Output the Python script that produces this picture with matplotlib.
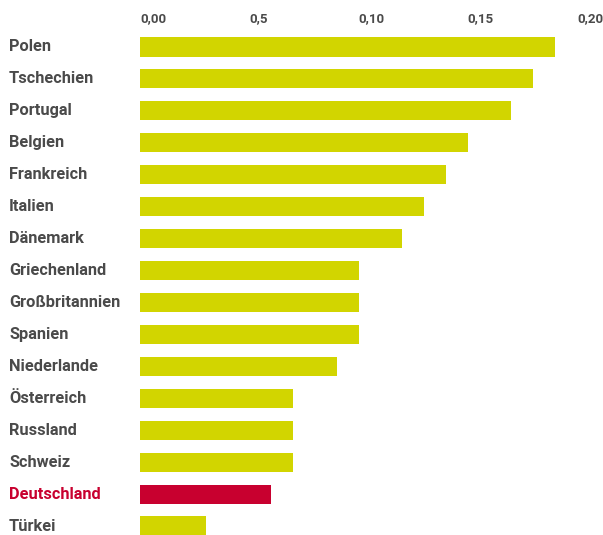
import matplotlib
matplotlib.use("Agg")
import matplotlib.pyplot as plt
import matplotlib.transforms as mtransforms

countries = ["Polen", "Tschechien", "Portugal", "Belgien", "Frankreich", "Italien",
             "Dänemark", "Griechenland", "Großbritannien", "Spanien", "Niederlande",
             "Österreich", "Russland", "Schweiz", "Deutschland", "Türkei"]
values = [0.19, 0.18, 0.17, 0.15, 0.14, 0.13, 0.12, 0.10, 0.10, 0.10, 0.09,
          0.07, 0.07, 0.07, 0.06, 0.03]
tick_values = [0.0, 0.05, 0.10, 0.15, 0.20]
tick_labels = ["0,00", "0,5", "0,10", "0,15", "0,20"]
highlight = "Deutschland"

GREEN = "#D2D500"
RED = "#C8002F"
GREY = "#4A4A4A"
FONT = ["Roboto", "DejaVu Sans"]

fig = plt.figure(figsize=(6.03, 5.35), dpi=100)
ax = fig.add_axes([140 / 603, 0, 437 / 603, 504 / 535])

colors = [RED if c == highlight else GREEN for c in countries]
ax.barh(range(len(countries)), values, height=0.6, color=colors)

ax.set_xlim(0, 0.2)
ax.set_ylim(15.28, -0.5)

ax.xaxis.tick_top()
ax.set_xticks(tick_values)
ax.set_xticklabels(tick_labels, ha="left", fontsize=9.5, fontweight="bold",
                   color=GREY, family=FONT)
ax.tick_params(axis="x", length=0, pad=4)
ax.set_yticks([])

# country names left-aligned at the figure's left edge
trans = mtransforms.blended_transform_factory(fig.transFigure, ax.transData)
for i, c in enumerate(countries):
    ax.text(9 / 603, i, c, transform=trans, ha="left", va="center",
            fontsize=11.8, fontweight="bold", family=FONT,
            color=RED if c == highlight else GREY)

for s in ax.spines.values():
    s.set_visible(False)

fig.savefig("out.png", dpi=100)
